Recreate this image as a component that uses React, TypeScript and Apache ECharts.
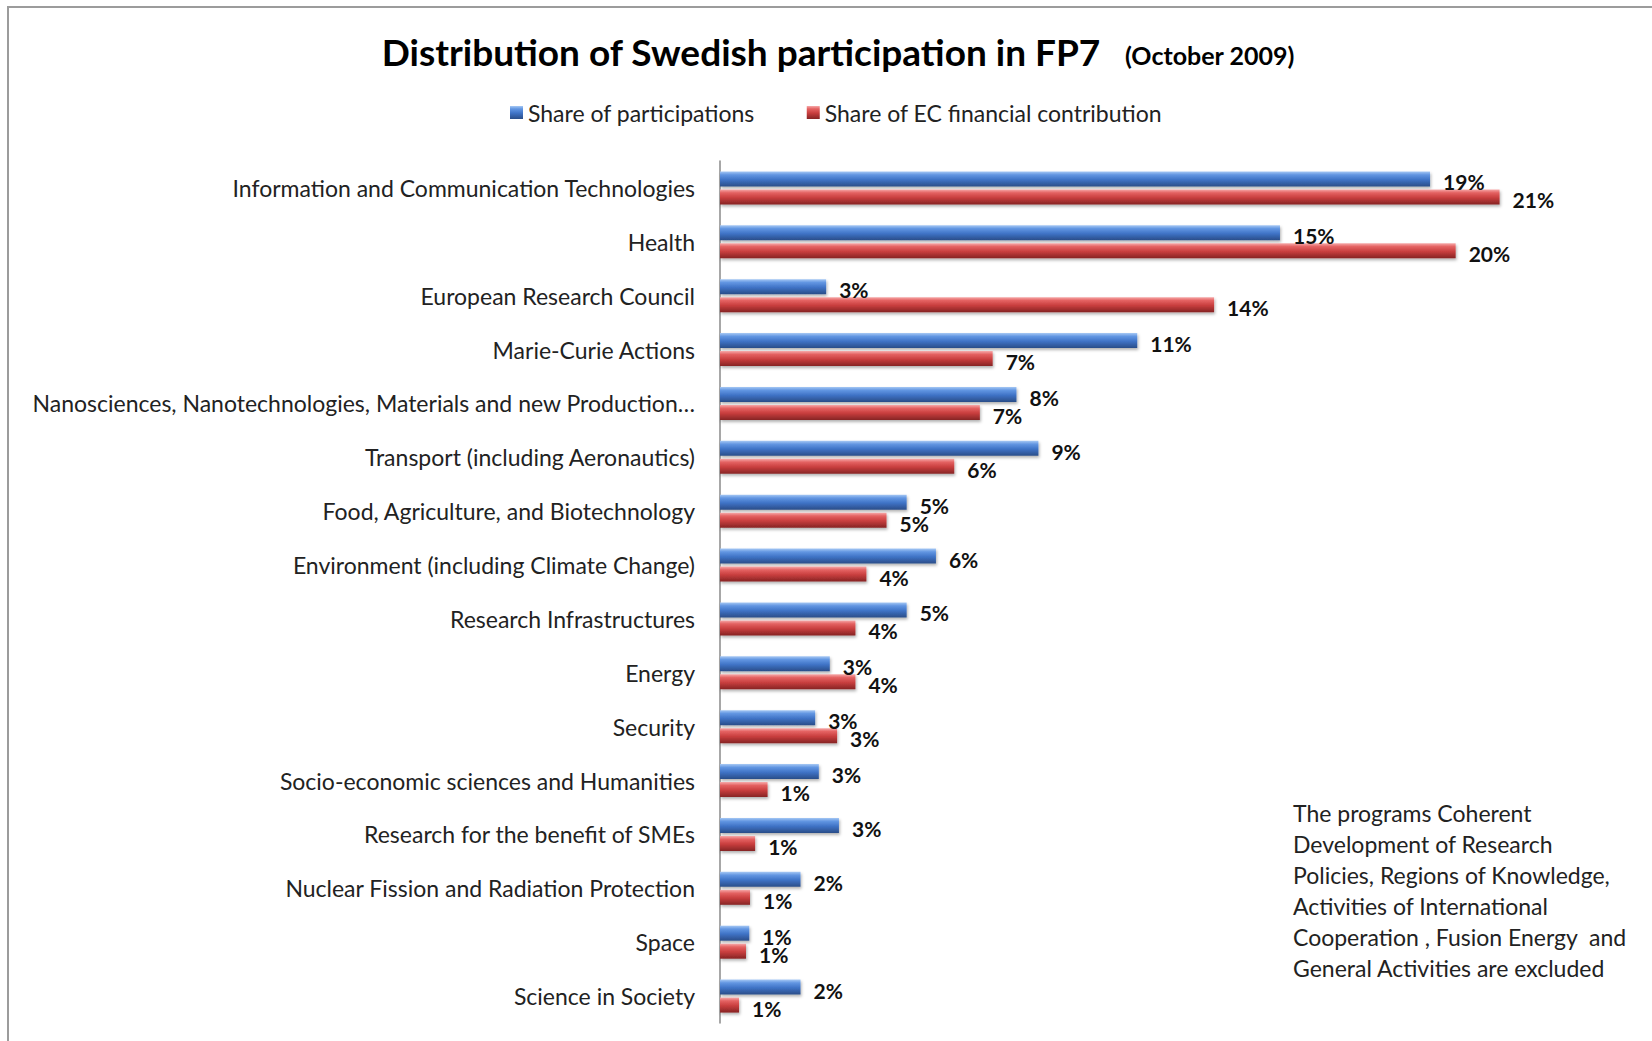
import React, { useEffect, useRef } from "react";
import * as echarts from "echarts";

const categories = [
  "Information and Communication Technologies",
  "Health",
  "European Research Council",
  "Marie-Curie Actions",
  "Nanosciences, Nanotechnologies, Materials and new Production…",
  "Transport (including Aeronautics)",
  "Food, Agriculture, and Biotechnology",
  "Environment (including Climate Change)",
  "Research Infrastructures",
  "Energy",
  "Security",
  "Socio-economic sciences and Humanities",
  "Research for the benefit of SMEs",
  "Nuclear Fission and Radiation Protection",
  "Space",
  "Science in Society",
];

const shareParticipations = [19.4, 15.3, 2.9, 11.4, 8.1, 8.7, 5.1, 5.9, 5.1, 3.0, 2.6, 2.7, 3.25, 2.2, 0.8, 2.2];
const shareFinancial = [21.3, 20.1, 13.5, 7.45, 7.1, 6.4, 4.55, 4.0, 3.7, 3.7, 3.2, 1.3, 0.96, 0.82, 0.71, 0.52];

const seriesNames = ["Share of participations", "Share of EC financial contribution"];
const titleMain = "Distribution of Swedish participation in FP7";
const titleSub = "(October 2009)";
const noteLines = [
  "The programs Coherent",
  "Development of Research",
  "Policies, Regions of Knowledge,",
  "Activities of International",
  "Cooperation , Fusion Energy  and",
  "General Activities are excluded",
];

const FONT = "Lato, 'Open Sans', sans-serif";

const blueGrad = new echarts.graphic.LinearGradient(0, 0, 0, 1, [
  { offset: 0, color: "#a6c8f4" },
  { offset: 0.22, color: "#6296e2" },
  { offset: 0.55, color: "#3f73c6" },
  { offset: 1, color: "#2a4d88" },
]);
const redGrad = new echarts.graphic.LinearGradient(0, 0, 0, 1, [
  { offset: 0, color: "#f6a9a9" },
  { offset: 0.22, color: "#e46262" },
  { offset: 0.55, color: "#c83e3e" },
  { offset: 1, color: "#862424" },
]);

export default function App() {
  const ref = useRef<HTMLDivElement>(null);
  useEffect(() => {
    if (!ref.current) return;
    const chart = echarts.init(ref.current, null, { renderer: "svg" });
    const labelCfg = {
      show: true,
      position: "right",
      distance: 13,
      offset: [0, 3],
      color: "#111",
      fontWeight: "bold",
      fontSize: 21,
      fontFamily: FONT,
      formatter: (p: any) => Math.round(p.value) + "%",
    };
    chart.setOption({
      animation: false,
      backgroundColor: "#ffffff",
      textStyle: { fontFamily: FONT },
      legend: {
        left: 505,
        top: 96,
        itemWidth: 13,
        itemHeight: 13,
        itemGap: 52,
        icon: "rect",
        textStyle: { fontSize: 23, color: "#222", fontFamily: FONT },
        data: seriesNames,
      },
      grid: { left: 720, right: 17, top: 161, bottom: 18, containLabel: false },
      xAxis: {
        type: "value",
        min: 0,
        max: 25,
        show: false,
        splitLine: { show: false },
      },
      yAxis: {
        type: "category",
        inverse: true,
        data: categories,
        axisLine: { show: true, lineStyle: { color: "#8a8a8a", width: 1.5 } },
        axisTick: { show: false },
        axisLabel: { margin: 25, color: "#222", fontSize: 23, fontFamily: FONT },
      },
      series: [
        {
          name: seriesNames[0],
          type: "bar",
          data: shareParticipations,
          barWidth: 15,
          barGap: "20%",
          itemStyle: {
            color: blueGrad,
            shadowBlur: 3,
            shadowColor: "rgba(0,0,0,0.3)",
            shadowOffsetY: 2,
            shadowOffsetX: 1,
          },
          label: labelCfg,
        },
        {
          name: seriesNames[1],
          type: "bar",
          data: shareFinancial,
          barWidth: 15,
          barGap: "20%",
          itemStyle: {
            color: redGrad,
            shadowBlur: 3,
            shadowColor: "rgba(0,0,0,0.3)",
            shadowOffsetY: 2,
            shadowOffsetX: 1,
          },
          label: labelCfg,
        },
      ],
      graphic: [
        {
          type: "rect",
          shape: { x: 8, y: 7, width: 1700, height: 1100 },
          style: { fill: "none", stroke: "#9c9c9c", lineWidth: 2 },
          silent: true,
        },
        {
          type: "text",
          x: 741,
          y: 51,
          style: {
            text: titleMain,
            font: `bold 37px ${FONT}`,
            fill: "#000",
            align: "center",
            verticalAlign: "middle",
          },
        },
        {
          type: "text",
          x: 1125,
          y: 55,
          style: {
            text: titleSub,
            font: `bold 25px ${FONT}`,
            fill: "#000",
            align: "left",
            verticalAlign: "middle",
          },
        },
        {
          type: "text",
          x: 1293,
          y: 797,
          style: {
            text: noteLines.join("\n"),
            font: `23px ${FONT}`,
            lineHeight: 31,
            fill: "#222",
            align: "left",
            verticalAlign: "top",
          },
        },
      ],
    });
    return () => chart.dispose();
  }, []);
  return (
    <div
      ref={ref}
      style={{ position: "absolute", left: 0, top: 0, width: 1652, height: 1041 }}
    />
  );
}
